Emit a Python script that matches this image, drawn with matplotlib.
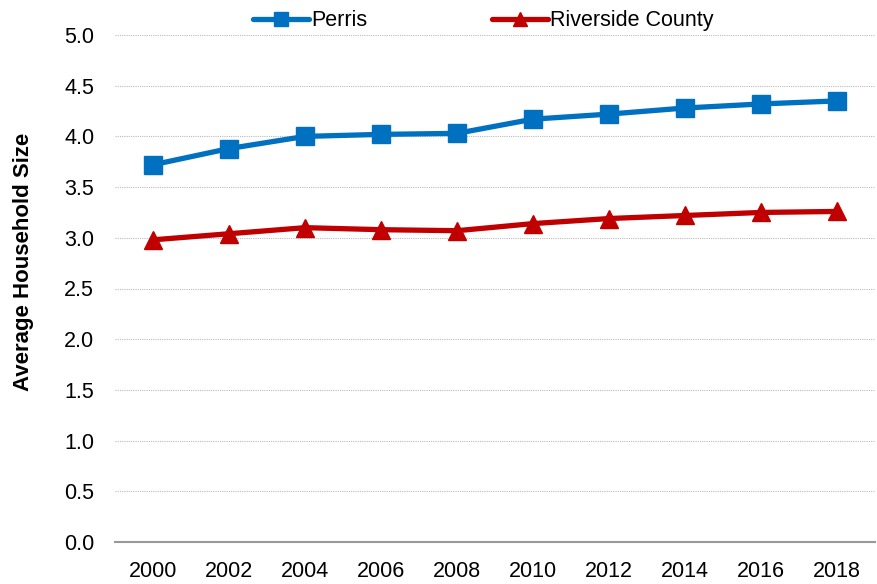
import matplotlib
matplotlib.use("Agg")
import matplotlib.pyplot as plt

years = ["2000", "2002", "2004", "2006", "2008", "2010", "2012", "2014", "2016", "2018"]
perris = [3.72, 3.88, 4.00, 4.02, 4.03, 4.17, 4.22, 4.28, 4.32, 4.35]
riverside = [2.98, 3.04, 3.10, 3.08, 3.07, 3.14, 3.19, 3.22, 3.25, 3.26]
yticks = [0.0, 0.5, 1.0, 1.5, 2.0, 2.5, 3.0, 3.5, 4.0, 4.5, 5.0]

plt.rcParams["font.family"] = ["Liberation Sans", "DejaVu Sans"]

fig = plt.figure(figsize=(8.78, 5.84), dpi=100)
ax = fig.add_axes([115/878, 1-542/584, (875-115)/878, (542-35)/584])

x = list(range(len(years)))
ax.plot(x, perris, color="#0070C0", lw=3.8, marker="s", ms=13, label="Perris", solid_capstyle="round")
ax.plot(x, riverside, color="#C00000", lw=3.8, marker="^", ms=13, label="Riverside County", solid_capstyle="round")

ax.set_xlim(-0.5, len(years)-0.5)
ax.set_ylim(0, 5.0)
ax.set_xticks(x)
ax.set_xticklabels(years, fontsize=15.5)
ax.set_yticks(yticks)
ax.set_yticklabels([f"{v:.1f}" for v in yticks], fontsize=15.5)
ax.tick_params(axis="x", length=0, pad=14)
ax.tick_params(axis="y", length=0, pad=15)
for s in ["left", "right", "top"]:
    ax.spines[s].set_visible(False)
ax.spines["bottom"].set_color("#999999")
ax.spines["bottom"].set_linewidth(1.5)
ax.yaxis.grid(True, color="#BBBBBB", linestyle=(0, (1, 1)), linewidth=0.8)
ax.set_axisbelow(True)
ax.set_ylabel("Average Household Size", fontsize=16, fontweight="bold")
ax.yaxis.set_label_coords(-0.106, 0.553)

leg = ax.legend(loc="lower center", bbox_to_anchor=(0.485, 0.99), ncol=2, frameon=False,
                fontsize=15.5, handlelength=2.6, handletextpad=0.1, columnspacing=5.8,
                borderaxespad=0, markerscale=0.75)
fig.savefig("out.png", dpi=100)
